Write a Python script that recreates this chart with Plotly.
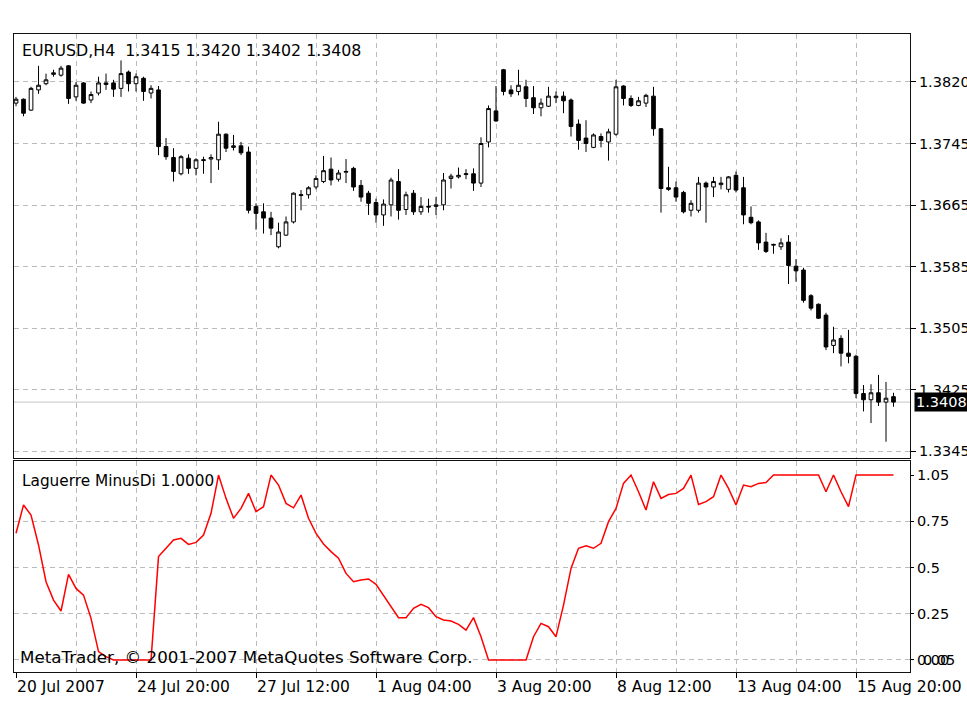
import plotly.graph_objects as go

symbol = "EURUSD,H4"
indicator_name = "Laguerre MinusDi"
copyright_text = "MetaTrader, \u00a9 2001-2007 MetaQuotes Software Corp."

open_ = [
    1.3793, 1.3798, 1.3784, 1.3810, 1.3818, 1.3830, 1.3829, 1.3841, 1.3801, 1.3819,
    1.3797, 1.3806, 1.3817, 1.3819, 1.3812, 1.3833, 1.3818, 1.3825, 1.3806, 1.3810,
    1.3737, 1.3723, 1.3702, 1.3722, 1.3709, 1.3719, 1.3721, 1.3720, 1.3753, 1.3736,
    1.3738, 1.3730, 1.3660, 1.3653, 1.3645, 1.3608, 1.3623, 1.3640, 1.3674, 1.3675,
    1.3685, 1.3692, 1.3708, 1.3695, 1.3704, 1.3709, 1.3687, 1.3677, 1.3665, 1.3649,
    1.3662, 1.3692, 1.3656, 1.3677, 1.3653, 1.3659, 1.3660, 1.3662, 1.3696, 1.3698,
    1.3701, 1.3702, 1.3690, 1.3743, 1.3783, 1.3836, 1.3810, 1.3808, 1.3814, 1.3800,
    1.3787, 1.3789, 1.3800, 1.3802, 1.3797, 1.3766, 1.3748, 1.3736, 1.3750, 1.3743,
    1.3753, 1.3815, 1.3799, 1.3790, 1.3793, 1.3802, 1.3760, 1.3684, 1.3684, 1.3678,
    1.3655, 1.3655, 1.3690, 1.3685, 1.3688, 1.3682, 1.3700, 1.3684, 1.3646, 1.3640,
    1.3614, 1.3610, 1.3608, 1.3614, 1.3583, 1.3578, 1.3545, 1.3534, 1.3520, 1.3481,
    1.3490, 1.3471, 1.3467, 1.3419, 1.3411, 1.3420, 1.3408, 1.3415,
]
high = [
    1.3801, 1.3799, 1.3814, 1.3841, 1.3831, 1.3836, 1.3841, 1.3842, 1.3820, 1.3820,
    1.3808, 1.3827, 1.3831, 1.3823, 1.3848, 1.3835, 1.3831, 1.3827, 1.3816, 1.3815,
    1.3748, 1.3735, 1.3726, 1.3727, 1.3722, 1.3724, 1.3727, 1.3769, 1.3754, 1.3752,
    1.3743, 1.3737, 1.3664, 1.3664, 1.3653, 1.3639, 1.3647, 1.3678, 1.3681, 1.3686,
    1.3700, 1.3725, 1.3723, 1.3707, 1.3721, 1.3711, 1.3694, 1.3680, 1.3670, 1.3669,
    1.3697, 1.3708, 1.3679, 1.3681, 1.3672, 1.3670, 1.3672, 1.3703, 1.3702, 1.3710,
    1.3708, 1.3709, 1.3749, 1.3790, 1.3815, 1.3837, 1.3816, 1.3836, 1.3823, 1.3815,
    1.3799, 1.3814, 1.3808, 1.3808, 1.3799, 1.3772, 1.3771, 1.3754, 1.3754, 1.3760,
    1.3823, 1.3816, 1.3803, 1.3801, 1.3805, 1.3814, 1.3761, 1.3711, 1.3692, 1.3680,
    1.3668, 1.3698, 1.3692, 1.3698, 1.3698, 1.3699, 1.3705, 1.3698, 1.3660, 1.3642,
    1.3626, 1.3612, 1.3619, 1.3623, 1.3592, 1.3581, 1.3547, 1.3535, 1.3523, 1.3505,
    1.3494, 1.3501, 1.3469, 1.3430, 1.3431, 1.3443, 1.3434, 1.3420,
]
low = [
    1.3789, 1.3776, 1.3783, 1.3805, 1.3816, 1.3827, 1.3827, 1.3792, 1.3796, 1.3792,
    1.3793, 1.3803, 1.3810, 1.3801, 1.3801, 1.3808, 1.3808, 1.3796, 1.3799, 1.3726,
    1.3720, 1.3692, 1.3700, 1.3702, 1.3700, 1.3702, 1.3690, 1.3707, 1.3730, 1.3732,
    1.3726, 1.3651, 1.3630, 1.3625, 1.3623, 1.3606, 1.3622, 1.3638, 1.3655, 1.3670,
    1.3682, 1.3690, 1.3687, 1.3692, 1.3690, 1.3680, 1.3666, 1.3649, 1.3639, 1.3635,
    1.3647, 1.3643, 1.3649, 1.3649, 1.3649, 1.3652, 1.3649, 1.3655, 1.3683, 1.3696,
    1.3695, 1.3680, 1.3685, 1.3736, 1.3769, 1.3803, 1.3801, 1.3803, 1.3788, 1.3779,
    1.3776, 1.3788, 1.3793, 1.3780, 1.3750, 1.3733, 1.3730, 1.3735, 1.3736, 1.3719,
    1.3751, 1.3790, 1.3788, 1.3789, 1.3788, 1.3751, 1.3652, 1.3680, 1.3666, 1.3651,
    1.3647, 1.3652, 1.3639, 1.3672, 1.3682, 1.3678, 1.3678, 1.3637, 1.3637, 1.3604,
    1.3600, 1.3599, 1.3604, 1.3560, 1.3563, 1.3536, 1.3526, 1.3515, 1.3475, 1.3471,
    1.3454, 1.3458, 1.3413, 1.3396, 1.3381, 1.3403, 1.3357, 1.3402,
]
close = [
    1.3798, 1.3780, 1.3812, 1.3816, 1.3823, 1.3832, 1.3838, 1.3799, 1.3816, 1.3793,
    1.3804, 1.3819, 1.3819, 1.3811, 1.3831, 1.3818, 1.3827, 1.3808, 1.3812, 1.3737,
    1.3724, 1.3705, 1.3724, 1.3709, 1.3720, 1.3720, 1.3723, 1.3753, 1.3735, 1.3738,
    1.3729, 1.3655, 1.3651, 1.3645, 1.3632, 1.3627, 1.3640, 1.3677, 1.3675, 1.3684,
    1.3696, 1.3706, 1.3694, 1.3703, 1.3705, 1.3685, 1.3672, 1.3664, 1.3649, 1.3663,
    1.3694, 1.3655, 1.3675, 1.3653, 1.3660, 1.3660, 1.3662, 1.3694, 1.3699, 1.3700,
    1.3702, 1.3690, 1.3741, 1.3786, 1.3770, 1.3808, 1.3805, 1.3816, 1.3799, 1.3787,
    1.3793, 1.3802, 1.3802, 1.3796, 1.3763, 1.3745, 1.3741, 1.3752, 1.3745, 1.3756,
    1.3814, 1.3799, 1.3790, 1.3796, 1.3803, 1.3760, 1.3683, 1.3682, 1.3672, 1.3653,
    1.3664, 1.3690, 1.3685, 1.3692, 1.3690, 1.3698, 1.3681, 1.3649, 1.3639, 1.3613,
    1.3602, 1.3611, 1.3613, 1.3584, 1.3577, 1.3539, 1.3529, 1.3516, 1.3479, 1.3488,
    1.3471, 1.3467, 1.3419, 1.3411, 1.3420, 1.3408, 1.3413, 1.3408,
]
laguerre = [
    0.685, 0.838, 0.784, 0.622, 0.423, 0.324, 0.265, 0.463, 0.387, 0.351,
    0.225, 0.045, 0.018, 0.0, 0.0, 0.0, 0.0, 0.0, 0.0, 0.559,
    0.604, 0.649, 0.658, 0.625, 0.636, 0.676, 0.793, 1.0, 0.874, 0.766,
    0.820, 0.901, 0.802, 0.829, 1.0, 0.946, 0.847, 0.823, 0.892, 0.766,
    0.685, 0.627, 0.586, 0.550, 0.468, 0.423, 0.432, 0.438, 0.409, 0.351,
    0.288, 0.229, 0.229, 0.279, 0.301, 0.283, 0.234, 0.216, 0.211, 0.193,
    0.162, 0.229, 0.126, 0.0, 0.0, 0.0, 0.0, 0.0, 0.0, 0.126,
    0.198, 0.180, 0.126, 0.297, 0.495, 0.604, 0.618, 0.604, 0.631, 0.748,
    0.820, 0.955, 1.0, 0.910, 0.811, 0.964, 0.874, 0.895, 0.901, 0.928,
    1.0, 0.841, 0.856, 0.883, 1.0, 0.928, 0.838, 0.946, 0.937, 0.955,
    0.960, 1.0, 1.0, 1.0, 1.0, 1.0, 1.0, 1.0, 0.910, 1.0,
    0.910, 0.829, 1.0, 1.0, 1.0, 1.0, 1.0, 1.0,
]

date_tick_idx = [0, 16, 32, 48, 64, 80, 96, 112]
date_tick_text = ["20 Jul 2007", "24 Jul 20:00", "27 Jul 12:00", "1 Aug 04:00",
                  "3 Aug 20:00", "8 Aug 12:00", "13 Aug 04:00", "15 Aug 20:00"]
grid_idx = [8, 16, 24, 32, 40, 48, 56, 64, 72, 80, 88, 96, 104, 112]
price_tickvals = [1.3345, 1.34242, 1.35034, 1.35826, 1.36618, 1.3741, 1.38202]
price_ticktext = ["1.3345", "1.3425", "1.3505", "1.3585", "1.3665", "1.3745", "1.3820"]
ind_tickvals = [0.0, 0.25, 0.5, 0.75, 1.0]
ind_ticktext = ["0.00", "0.25", "0.5", "0.75", "1.05"]
ind_gridvals = [0.0, 0.25, 0.5, 0.75]

bars = list(range(len(open_)))

FONT = "DejaVu Sans"
FS = 15.5
TICK_FS = 14.5
GRID = "#bcbcbc"
DASH = "5px,4px"
X_RANGE = [-0.27, 119.2]

fig = go.Figure()
fig.add_trace(go.Candlestick(
    x=bars, open=open_, high=high, low=low, close=close,
    xaxis="x", yaxis="y",
    increasing=dict(line=dict(color="black", width=1), fillcolor="white"),
    decreasing=dict(line=dict(color="black", width=1), fillcolor="black"),
    whiskerwidth=0, showlegend=False, hoverinfo="skip",
))
fig.add_trace(go.Scatter(
    x=bars, y=laguerre, xaxis="x2", yaxis="y2", mode="lines",
    line=dict(color="#ff0000", width=1.5), showlegend=False, hoverinfo="skip",
))

axis_common = dict(showline=True, mirror=True, linecolor="#111111", linewidth=1,
                   zeroline=False, automargin=False)

fig.update_layout(
    width=967, height=718,
    margin=dict(l=14, r=57, t=34, b=46),
    paper_bgcolor="white", plot_bgcolor="white",
    font=dict(family=FONT, size=FS, color="black"),
    hovermode=False,
    xaxis=dict(
        domain=[0, 1], anchor="y", range=X_RANGE,
        showticklabels=False, ticks="", showgrid=False,
        minor=dict(tickmode="array", tickvals=grid_idx, showgrid=True,
                   gridcolor=GRID, griddash=DASH, gridwidth=1, ticks=""),
        rangeslider=dict(visible=False), **axis_common,
    ),
    yaxis=dict(
        domain=[0.3354, 1], anchor="x", side="right",
        range=[1.3336, 1.3882],
        tickmode="array", tickvals=price_tickvals, ticktext=price_ticktext,
        tickfont=dict(size=TICK_FS), ticklabeloverflow="allow",
        showgrid=True, gridcolor=GRID, griddash=DASH, gridwidth=1,
        ticks="outside", ticklen=5, tickcolor="black", **axis_common,
    ),
    xaxis2=dict(
        domain=[0, 1], anchor="y2", range=X_RANGE,
        tickmode="array", tickvals=date_tick_idx, ticktext=date_tick_text,
        ticks="outside", ticklen=5, tickcolor="black",
        ticklabelposition="outside right", ticklabeloverflow="allow",
        showgrid=False,
        minor=dict(tickmode="array", tickvals=grid_idx, showgrid=True,
                   gridcolor=GRID, griddash=DASH, gridwidth=1, ticks=""),
        **axis_common,
    ),
    yaxis2=dict(
        domain=[0, 0.3307], anchor="x2", side="right",
        range=[-0.065, 1.076],
        tickmode="array", tickvals=ind_tickvals, ticktext=ind_ticktext,
        tickfont=dict(size=TICK_FS), ticklabeloverflow="allow",
        showgrid=False,
        minor=dict(tickmode="array", tickvals=ind_gridvals, showgrid=True,
                   gridcolor=GRID, griddash=DASH, gridwidth=1, ticks=""),
        ticks="outside", ticklen=3, tickcolor="black", **axis_common,
    ),
)

last_price = close[-1]
fig.add_shape(type="line", xref="x domain", yref="y", x0=0, x1=1,
              y0=last_price, y1=last_price, line=dict(color="#c4c4c4", width=1),
              layer="below")

fig.add_annotation(
    text=f"{symbol}\u00a0\u00a0{open_[-1]:.4f} {high[-1]:.4f} {low[-1]:.4f} {close[-1]:.4f}",
    xref="x domain", yref="y domain", x=0, y=1, xanchor="left", yanchor="middle",
    xshift=6, yshift=-16, showarrow=False, font=dict(size=15.8),
)
fig.add_annotation(
    text=f"{indicator_name} {laguerre[-1]:.4f}",
    xref="x2 domain", yref="y2 domain", x=0, y=1, xanchor="left", yanchor="middle",
    xshift=6, yshift=-20, showarrow=False, font=dict(size=15.3),
)
fig.add_annotation(
    text=copyright_text,
    xref="x2 domain", yref="y2 domain", x=0, y=0, xanchor="left", yanchor="middle",
    xshift=4, yshift=15, showarrow=False, font=dict(size=16.7),
)
fig.add_annotation(
    text=f"{last_price:.4f}", xref="paper", yref="y", x=1, y=last_price,
    xanchor="left", yanchor="middle", xshift=4, showarrow=False,
    bgcolor="black", font=dict(color="white", family=FONT, size=TICK_FS), borderpad=1,
)
fig.add_annotation(
    text="0.05", xref="paper", yref="y2", x=1, y=0,
    xanchor="left", yanchor="middle", xshift=11, showarrow=False,
    font=dict(size=TICK_FS),
)

# place the figure at the page's top-left corner (no default body margin, no scrollbars)
page_css = ("document.body.style.margin='0';document.body.style.padding='0';"
            "document.body.style.overflow='hidden';")

fig.write_html("out.html", post_script=page_css, config={"displayModeBar": False})
